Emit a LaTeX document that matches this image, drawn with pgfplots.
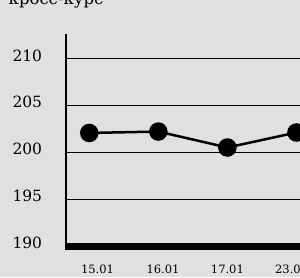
\documentclass[border=0pt]{standalone}
\usepackage{fontspec}
\setmainfont{DejaVu Serif}
\usepackage{pgfplots}
\pgfplotsset{compat=1.18}
\definecolor{bg}{RGB}{224,224,224}
\begin{document}
\begin{tikzpicture}
\useasboundingbox (0,0) rectangle (300pt,277pt);
\clip (0,0) rectangle (300pt,277pt);
\fill[bg] (0,0) rectangle (300pt,277pt);
\node[anchor=base west, inner sep=0pt, font=\fontsize{16.5pt}{19pt}\selectfont] at (8.5pt,273pt) {кросс-курс};
\begin{axis}[
  at={(66pt,31pt)}, anchor=south west,
  scale only axis, width=265pt, height=212pt,
  xmin=-0.337, xmax=3.5,
  ymin=190, ymax=212.6,
  axis x line*=bottom, axis y line*=left,
  x axis line style={line width=7pt,-},
  y axis line style={line width=1.5pt,-, shorten <=-3.5pt},
  ytick={190,195,200,205,210},
  ymajorgrids, grid style={black, line width=0.8pt},
  xtick={0.12,1.067,2.0,2.93},
  xticklabels={15.01,16.01,17.01,23.01},
  major tick length=0pt,
  /pgf/number format/assume math mode=true,
  yticklabel style={anchor=east, inner sep=0pt, xshift=-23.7pt, yshift=3pt, font=\fontsize{15.5pt}{18pt}\selectfont},
  xticklabel style={anchor=north, inner sep=0pt, yshift=-19pt, font=\fontsize{11.5pt}{13pt}\selectfont},
  clip=false,
]
\addplot[black, line width=2.5pt, mark=*, mark size=8pt] coordinates {
  (0,202.05) (1,202.2) (2,200.5) (3,202.1)
};
\end{axis}
\end{tikzpicture}
\end{document}
